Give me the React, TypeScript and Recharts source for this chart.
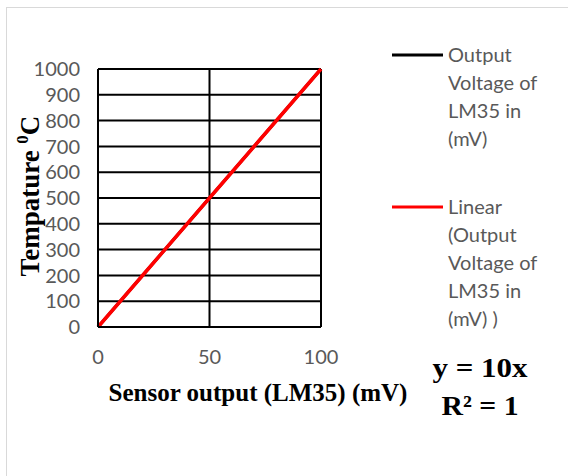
import { LineChart, Line, XAxis, YAxis, CartesianGrid } from 'recharts';

// sensor output (mV) vs temperature
const sensorMv = [0, 25, 50, 75, 100];
const outputTemp = [0, 250, 500, 750, 1000];
const linearTemp = [0, 250, 500, 750, 1000];

const xTicks = [0, 50, 100];
const yTicks = [0, 100, 200, 300, 400, 500, 600, 700, 800, 900, 1000];

const legendBlack = ['Output', 'Voltage of', 'LM35 in', '(mV)'];
const legendRed = ['Linear', '(Output', 'Voltage of', 'LM35 in', '(mV) )'];

const data = sensorMv.map((x, i) => ({ x, output: outputTemp[i], linear: linearTemp[i] }));

const tickFont = { fill: '#595959', fontSize: 20, fontFamily: 'Lato, sans-serif' };
const serif = "'Liberation Serif', 'Times New Roman', serif";

export default function App() {
  return (
    <div style={{ position: 'absolute', left: 0, top: 0, width: 568, height: 476, background: '#fff' }}>
      <div style={{ position: 'absolute', left: 6, top: 7, right: 0, bottom: 0, borderLeft: '1px solid #d9d9d9', borderTop: '1px solid #d9d9d9' }} />
      <LineChart width={568} height={476} data={data} margin={{ top: 69, right: 247, bottom: 89, left: 38 }}>
        <CartesianGrid stroke="#000" strokeWidth={2} horizontal vertical />
        <XAxis
          dataKey="x"
          type="number"
          domain={[0, 100]}
          ticks={xTicks}
          tick={tickFont}
          tickLine={false}
          tickSize={0}
          tickMargin={23}
          axisLine={{ stroke: '#000', strokeWidth: 2 }}
          height={60}
        />
        <YAxis
          type="number"
          domain={[0, 1000]}
          ticks={yTicks}
          interval={0}
          tick={tickFont}
          tickLine={false}
          tickSize={0}
          tickMargin={18}
          axisLine={{ stroke: '#000', strokeWidth: 2 }}
          width={60}
        />
        <Line dataKey="output" stroke="#000" strokeWidth={3} dot={false} isAnimationActive={false} />
        <Line dataKey="linear" stroke="#ff0000" strokeWidth={3.5} dot={false} isAnimationActive={false} />
      </LineChart>
      <svg width={568} height={476} style={{ position: 'absolute', left: 0, top: 0, pointerEvents: 'none' }}>
        <text
          transform="translate(39,196) rotate(-90)"
          textAnchor="middle"
          fontFamily={serif}
          fontWeight="bold"
          fontSize={27}
          fill="#000"
        >
          Tempature <tspan fontSize={17} dy={-11}>0</tspan><tspan dy={11}>C</tspan>
        </text>
        <text x={258} y={401} textAnchor="middle" fontFamily={serif} fontWeight="bold" fontSize={25} fill="#000">
          Sensor output  (LM35) (mV)
        </text>
        <text x={480} y={377} textAnchor="middle" fontFamily={serif} fontWeight="bold" fontSize={28} fill="#000"
          textLength={95} lengthAdjust="spacingAndGlyphs">
          y = 10x
        </text>
        <text x={480} y={415} textAnchor="middle" fontFamily={serif} fontWeight="bold" fontSize={28} fill="#000"
          textLength={77} lengthAdjust="spacingAndGlyphs">
          R² = 1
        </text>
        <line x1={392} x2={443} y1={55} y2={55} stroke="#000" strokeWidth={3} />
        {legendBlack.map((t, i) => (
          <text key={t} x={448} y={55 + i * 28} dy="0.35em" fontFamily="Lato, sans-serif" fontSize={20} fill="#595959">{t}</text>
        ))}
        <line x1={392} x2={443} y1={207} y2={207} stroke="#ff0000" strokeWidth={3} />
        {legendRed.map((t, i) => (
          <text key={t} x={448} y={207 + i * 28} dy="0.35em" fontFamily="Lato, sans-serif" fontSize={20} fill="#595959">{t}</text>
        ))}
      </svg>
    </div>
  );
}
